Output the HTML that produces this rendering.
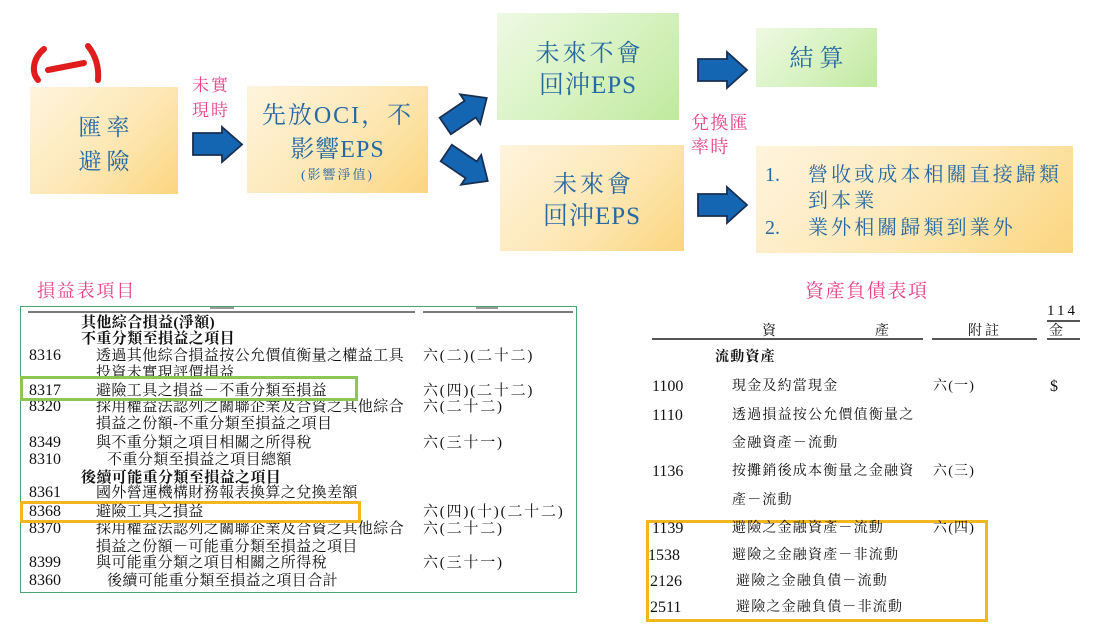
<!DOCTYPE html>
<html><head><meta charset="utf-8">
<style>
*{margin:0;padding:0;box-sizing:border-box}
body{width:1095px;height:625px;background:#fff;position:relative;overflow:hidden;font-family:"Liberation Serif","Noto Serif CJK SC",serif}
.a{position:absolute;white-space:nowrap}
.box{position:absolute}
.y{background:linear-gradient(135deg,#fef4de 0%,#fde7b4 55%,#fbd67f 100%)}
.g{background:linear-gradient(135deg,#eef9e3 0%,#d6f2bf 55%,#bfe99e 100%)}
.bt{color:#2869a3;text-align:center;position:absolute;left:0;right:0;white-space:nowrap}
.pk{color:#e8408a;font-family:"Liberation Sans","Noto Serif CJK SC",serif}
.t{font-size:15px;letter-spacing:0.4px;color:#111;line-height:16px}
.nt{letter-spacing:1.8px}
.n{font-size:16px;letter-spacing:0;color:#111;line-height:16px;font-family:"Liberation Serif",serif}
.b{font-weight:bold}
.r{font-size:14px;letter-spacing:1.2px;color:#111;line-height:16px}
</style></head><body>

<svg class="a" style="left:0;top:0" width="1095" height="260">
  <path d="M44 49 C33 58 31 72 38 80" stroke="#e01c1c" stroke-width="6" fill="none" stroke-linecap="round"/>
  <path d="M48 70 L84 63" stroke="#e01c1c" stroke-width="6" fill="none" stroke-linecap="round"/>
  <path d="M88 46 C96 56 99 68 98 80" stroke="#e01c1c" stroke-width="6" fill="none" stroke-linecap="round"/>
  <g fill="#1566b2" stroke="#182f52" stroke-width="1.8" stroke-linejoin="miter">
    <polygon points="193,133 222,133 222,127 242,144.5 222,162 222,155 193,155"/>
    <polygon points="698,59 727,59 727,52 747,70 727,88 727,81 698,81"/>
    <polygon points="698,194 727,194 727,187 747,205 727,223 727,216 698,216"/>
    <g transform="translate(466,112) rotate(-34)">
      <polygon points="-25,-10 5,-10 5,-18 25,0 5,18 5,10 -25,10"/>
    </g>
    <g transform="translate(467,167) rotate(34)">
      <polygon points="-25,-10 5,-10 5,-18 25,0 5,18 5,10 -25,10"/>
    </g>
  </g>
</svg>

<div class="box y" style="left:30px;top:87px;width:148px;height:107px">
  <div class="bt" style="top:24px;font-size:23px;line-height:34px;letter-spacing:5px;padding-left:5px">匯率<br>避險</div>
</div>

<div class="a pk" style="left:192px;top:73px;font-size:17px;line-height:25px;letter-spacing:2px">未實<br>現時</div>

<div class="box y" style="left:247px;top:86px;width:181px;height:107px">
  <div class="bt" style="top:14px;font-size:24px;line-height:33px;letter-spacing:2px">先放OCI，不</div>
  <div class="bt" style="top:48px;font-size:24px;line-height:33px;letter-spacing:1px">影響EPS</div>
  <div class="bt" style="top:81px;font-size:13px;line-height:16px;letter-spacing:2px">(影響淨值)</div>
</div>

<div class="box g" style="left:497px;top:13px;width:182px;height:107px">
  <div class="bt" style="top:25px;font-size:24px;line-height:32px;letter-spacing:3px;padding-left:3px">未來不會</div>
  <div class="bt" style="top:57px;font-size:25px;line-height:32px;letter-spacing:1px">回沖EPS</div>
</div>

<div class="box g" style="left:756px;top:28px;width:121px;height:59px">
  <div class="bt" style="top:14px;font-size:24px;line-height:34px;letter-spacing:6px;padding-left:6px">結算</div>
</div>

<div class="a pk" style="left:691px;top:111px;font-size:18px;line-height:24px;letter-spacing:1.4px">兌換匯<br>率時</div>

<div class="box y" style="left:500px;top:145px;width:184px;height:106px">
  <div class="bt" style="top:24px;font-size:24px;line-height:32px;letter-spacing:3px;padding-left:3px">未來會</div>
  <div class="bt" style="top:56px;font-size:25px;line-height:32px;letter-spacing:1px">回沖EPS</div>
</div>

<div class="box y" style="left:756px;top:146px;width:317px;height:107px">
  <div class="a" style="left:9px;top:16px;font-size:20px;line-height:26px;color:#2869a3">1.</div>
  <div class="a" style="left:52px;top:16px;font-size:20px;line-height:26px;letter-spacing:3.1px;color:#2869a3">營收或成本相關直接歸類</div>
  <div class="a" style="left:52px;top:42px;font-size:20px;line-height:26px;letter-spacing:3.1px;color:#2869a3">到本業</div>
  <div class="a" style="left:9px;top:69px;font-size:20px;line-height:26px;color:#2869a3">2.</div>
  <div class="a" style="left:52px;top:69px;font-size:20px;line-height:26px;letter-spacing:3.1px;color:#2869a3">業外相關歸類到業外</div>
</div>

<div class="a pk" style="left:37px;top:280px;font-size:18px;line-height:22px;letter-spacing:1.8px">損益表項目</div>
<div class="a pk" style="left:805px;top:281px;font-size:19px;line-height:22px;letter-spacing:1.6px">資產負債表項</div>

<div class="box" style="left:20px;top:306px;width:557px;height:287px;border:1.5px solid #4aa572"></div>
<div class="box" style="left:210px;top:307px;width:24px;height:2px;background:#999"></div>
<div class="box" style="left:476px;top:307px;width:22px;height:2px;background:#999"></div>
<div class="box" style="left:28px;top:311px;width:387px;height:2px;background:#7a7a7a"></div>
<div class="box" style="left:423px;top:311px;width:150px;height:2px;background:#7a7a7a"></div>

<div class="a t b" style="left:81px;top:315px">其他綜合損益(淨額)</div>
<div class="a t b" style="left:81px;top:331px">不重分類至損益之項目</div>
<div class="a n" style="left:29px;top:348px">8316</div>
<div class="a t" style="left:96px;top:348px">透過其他綜合損益按公允價值衡量之權益工具</div>
<div class="a t nt" style="left:423px;top:348px">六(二)(二十二)</div>
<div class="a t" style="left:96px;top:365px">投資未實現評價損益</div>

<div class="a n" style="left:29px;top:399px">8320</div>
<div class="a t" style="left:96px;top:399px">採用權益法認列之關聯企業及合資之其他綜合</div>
<div class="a t nt" style="left:423px;top:399px">六(二十二)</div>

<div class="box" style="left:20px;top:376px;width:338px;height:25px;border:3px solid #8cc653;background:#fff"></div>
<div class="a n" style="left:29px;top:383px">8317</div>
<div class="a t" style="left:96px;top:383px">避險工具之損益－不重分類至損益</div>
<div class="a t nt" style="left:423px;top:383px">六(四)(二十二)</div>

<div class="a t" style="left:96px;top:416px">損益之份額-不重分類至損益之項目</div>
<div class="a n" style="left:29px;top:435px">8349</div>
<div class="a t" style="left:96px;top:435px">與不重分類之項目相關之所得稅</div>
<div class="a t nt" style="left:423px;top:435px">六(三十一)</div>
<div class="a n" style="left:29px;top:452px">8310</div>
<div class="a t" style="left:107px;top:452px">不重分類至損益之項目總額</div>
<div class="a t b" style="left:81px;top:470px">後續可能重分類至損益之項目</div>
<div class="a n" style="left:29px;top:485px">8361</div>
<div class="a t" style="left:96px;top:485px">國外營運機構財務報表換算之兌換差額</div>
<div class="a n" style="left:29px;top:521px">8370</div>
<div class="a t" style="left:96px;top:521px">採用權益法認列之關聯企業及合資之其他綜合</div>
<div class="a t nt" style="left:423px;top:521px">六(二十二)</div>

<div class="box" style="left:20px;top:501px;width:341px;height:22px;border:3px solid #f2b61e;background:#fff"></div>
<div class="a n" style="left:29px;top:504px">8368</div>
<div class="a t" style="left:96px;top:504px">避險工具之損益</div>
<div class="a t nt" style="left:423px;top:504px">六(四)(十)(二十二)</div>

<div class="a t" style="left:96px;top:539px">損益之份額－可能重分類至損益之項目</div>
<div class="a n" style="left:29px;top:555px">8399</div>
<div class="a t" style="left:96px;top:555px">與可能重分類之項目相關之所得稅</div>
<div class="a t nt" style="left:423px;top:555px">六(三十一)</div>
<div class="a n" style="left:29px;top:573px">8360</div>
<div class="a t" style="left:107px;top:573px">後續可能重分類至損益之項目合計</div>

<div class="a n" style="left:1047px;top:303px;font-size:15px;letter-spacing:3px">114</div>
<div class="box" style="left:1047px;top:320px;width:33px;height:1.5px;background:#555"></div>
<div class="a r" style="left:762px;top:324px">資</div>
<div class="a r" style="left:875px;top:324px">產</div>
<div class="a r" style="left:968px;top:324px;letter-spacing:3px">附註</div>
<div class="a r" style="left:1049px;top:324px">金</div>
<div class="box" style="left:652px;top:338px;width:271px;height:1.5px;background:#555"></div>
<div class="box" style="left:932px;top:338px;width:105px;height:1.5px;background:#555"></div>
<div class="box" style="left:1047px;top:338px;width:33px;height:1.5px;background:#555"></div>

<div class="a r b" style="left:715px;top:350px">流動資產</div>
<div class="a n" style="left:652px;top:379px">1100</div>
<div class="a r" style="left:732px;top:379px">現金及約當現金</div>
<div class="a r" style="left:933px;top:379px">六(一)</div>
<div class="a n" style="left:1050px;top:379px">$</div>
<div class="a n" style="left:652px;top:408px">1110</div>
<div class="a r" style="left:732px;top:408px">透過損益按公允價值衡量之</div>
<div class="a r" style="left:732px;top:436px">金融資產－流動</div>
<div class="a n" style="left:652px;top:464px">1136</div>
<div class="a r" style="left:732px;top:464px">按攤銷後成本衡量之金融資</div>
<div class="a r" style="left:933px;top:464px">六(三)</div>
<div class="a r" style="left:732px;top:493px">產－流動</div>

<div class="box" style="left:646px;top:520px;width:342px;height:102px;border:3px solid #f2b61e"></div>
<div class="a n" style="left:652px;top:521px">1139</div>
<div class="a r" style="left:732px;top:521px">避險之金融資產－流動</div>
<div class="a r" style="left:933px;top:521px">六(四)</div>
<div class="a n" style="left:648px;top:548px">1538</div>
<div class="a r" style="left:732px;top:548px">避險之金融資產－非流動</div>
<div class="a n" style="left:650px;top:574px">2126</div>
<div class="a r" style="left:736px;top:574px">避險之金融負債－流動</div>
<div class="a n" style="left:650px;top:600px">2511</div>
<div class="a r" style="left:736px;top:600px">避險之金融負債－非流動</div>

</body></html>
